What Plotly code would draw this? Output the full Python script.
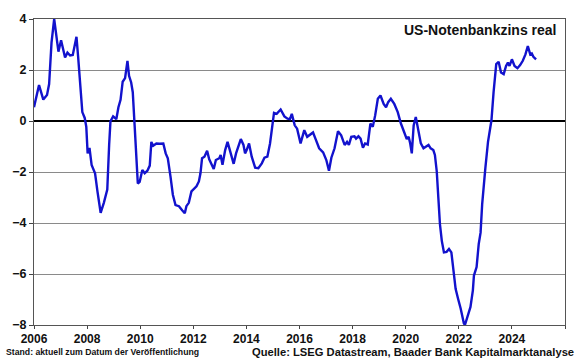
import plotly.graph_objects as go

# Decimal year positions and real Fed funds rate values
years = [
    2006.00, 2006.19, 2006.35, 2006.49, 2006.57, 2006.66, 2006.76, 2006.84, 2006.92, 2007.02,
    2007.10, 2007.17, 2007.26, 2007.36, 2007.46, 2007.60, 2007.66, 2007.73, 2007.82, 2007.91,
    2007.97, 2008.02, 2008.09, 2008.17, 2008.30, 2008.39, 2008.51, 2008.63, 2008.76, 2008.83,
    2008.88, 2008.98, 2009.10, 2009.18, 2009.26, 2009.34, 2009.43, 2009.52, 2009.58, 2009.66,
    2009.72, 2009.79, 2009.85, 2009.91, 2009.98, 2010.08, 2010.17, 2010.27, 2010.36, 2010.42,
    2010.49, 2010.61, 2010.73, 2010.87, 2010.96, 2011.04, 2011.14, 2011.23, 2011.33, 2011.46,
    2011.58, 2011.68, 2011.74, 2011.83, 2011.93, 2012.03, 2012.12, 2012.21, 2012.27, 2012.33,
    2012.42, 2012.52, 2012.60, 2012.77, 2012.85, 2012.98, 2013.03, 2013.10, 2013.20, 2013.29,
    2013.39, 2013.52, 2013.61, 2013.73, 2013.79, 2013.89, 2013.95, 2014.01, 2014.10, 2014.20,
    2014.33, 2014.45, 2014.58, 2014.68, 2014.79, 2014.89, 2015.04, 2015.14, 2015.29, 2015.43,
    2015.55, 2015.64, 2015.71, 2015.82, 2015.91, 2016.04, 2016.18, 2016.29, 2016.39, 2016.51,
    2016.60, 2016.74, 2016.89, 2017.01, 2017.11, 2017.20, 2017.32, 2017.45, 2017.57, 2017.70,
    2017.79, 2017.86, 2017.95, 2018.07, 2018.13, 2018.22, 2018.30, 2018.39, 2018.47, 2018.57,
    2018.67, 2018.76, 2018.85, 2018.95, 2019.05, 2019.17, 2019.26, 2019.34, 2019.44, 2019.57,
    2019.70, 2019.82, 2019.94, 2020.04, 2020.11, 2020.17, 2020.23, 2020.30, 2020.38, 2020.47,
    2020.57, 2020.67, 2020.77, 2020.86, 2020.94, 2021.04, 2021.10, 2021.17, 2021.23, 2021.29,
    2021.36, 2021.44, 2021.54, 2021.63, 2021.72, 2021.80, 2021.88, 2021.97, 2022.07, 2022.19,
    2022.23, 2022.44, 2022.53, 2022.57, 2022.67, 2022.75, 2022.82, 2022.88, 2022.97, 2023.00,
    2023.10, 2023.23, 2023.31, 2023.41, 2023.50, 2023.59, 2023.69, 2023.78, 2023.85, 2023.91,
    2024.00, 2024.10, 2024.21, 2024.31, 2024.41, 2024.51, 2024.60, 2024.69, 2024.75, 2024.81,
    2024.91,
]
rate = [
    0.54, 1.41, 0.84, 1.02, 1.45, 3.07, 4.00, 3.39, 2.72, 3.17,
    2.78, 2.49, 2.68, 2.57, 2.59, 3.30, 2.55, 1.51, 0.35, 0.12,
    -0.23, -1.27, -1.05, -1.72, -2.05, -2.76, -3.60, -3.21, -2.69, -0.94,
    -0.01, 0.18, 0.07, 0.54, 0.83, 1.54, 1.68, 2.36, 1.77, 1.51,
    1.13, -0.17, -1.59, -2.45, -2.39, -1.92, -2.05, -1.95, -1.75, -0.82,
    -0.97, -0.88, -0.89, -0.88, -1.27, -1.46, -2.17, -2.89, -3.30, -3.34,
    -3.50, -3.62, -3.34, -3.21, -2.76, -2.63, -2.56, -2.37, -2.05, -1.46,
    -1.40, -1.17, -1.50, -1.88, -1.53, -1.46, -1.33, -1.72, -1.14, -0.82,
    -1.18, -1.68, -1.27, -0.88, -0.71, -0.94, -1.27, -1.14, -0.88, -1.40,
    -1.83, -1.85, -1.66, -1.44, -1.40, -0.88, 0.32, 0.28, 0.45, 0.18,
    0.09, 0.07, 0.28, -0.17, -0.30, -0.88, -0.36, -0.62, -0.53, -0.45,
    -0.69, -1.07, -1.23, -1.53, -1.95, -1.44, -1.07, -0.40, -0.56, -0.94,
    -0.82, -0.94, -0.62, -0.60, -0.69, -0.60, -0.69, -1.05, -0.88, -0.92,
    -0.10, -0.23, 0.22, 0.87, 1.00, 0.67, 0.54, 0.74, 0.87, 0.67,
    0.35, -0.10, -0.43, -0.71, -0.62, -0.88, -1.27, -0.17, 0.16, -0.36,
    -0.88, -1.07, -1.01, -0.94, -1.07, -1.14, -1.33, -1.98, -3.02, -4.05,
    -4.70, -5.15, -5.13, -5.02, -5.15, -5.86, -6.58, -6.96, -7.35, -7.93,
    -8.00, -7.29, -6.64, -6.06, -5.73, -4.83, -4.38, -3.27, -2.11, -1.85,
    -0.82, 0.03, 1.13, 2.23, 2.32, 1.90, 1.84, 2.16, 2.29, 2.16,
    2.42, 2.16, 2.07, 2.19, 2.36, 2.61, 2.94, 2.61, 2.65, 2.52,
    2.42,
]

x_tickvals = [2006, 2008, 2010, 2012, 2014, 2016, 2018, 2020, 2022, 2024, 2026]
x_ticktext = ["2006", "2008", "2010", "2012", "2014", "2016", "2018", "2020", "2022", "2024", ""]
y_tickvals = [-8, -6, -4, -2, 0, 2, 4]

title_text = "US-Notenbankzins real"
note_left = "Stand: aktuell zum Datum der Veröffentlichung"
note_right = "Quelle: LSEG Datastream, Baader Bank Kapitalmarktanalyse"

FONT = "Liberation Sans, Arial, sans-serif"

W, H = 580, 359
ML, MR, MT, MB = 31, 15, 16, 34
plot_h = H - MT - MB
plot_w = W - ML - MR


def px_x(px):
    return (px - ML) / plot_w


def px_y(py):
    return 1 - (py - MT) / plot_h


fig = go.Figure()
fig.add_trace(go.Scatter(
    x=years, y=rate, mode="lines",
    line=dict(color="rgb(18,18,205)", width=2.4),
    hoverinfo="skip", showlegend=False,
))

fig.update_layout(
    width=W, height=H,
    margin=dict(l=ML, r=MR, t=MT, b=MB, pad=0),
    paper_bgcolor="white", plot_bgcolor="white",
    font=dict(family=FONT, color="#111"),
    showlegend=False,
    xaxis=dict(
        range=[2006, 2026], tickvals=x_tickvals, ticktext=x_ticktext,
        ticks="outside", ticklen=3, tickcolor="#444", tickwidth=1,
        showgrid=False, zeroline=False,
        showline=True, linecolor="#555", linewidth=1, mirror=True,
        tickfont=dict(family=FONT, size=12, color="#111", weight="bold"),
    ),
    yaxis=dict(
        range=[-8, 4], tickvals=y_tickvals,
        ticks="outside", ticklen=4, tickcolor="#444", tickwidth=1,
        showgrid=True, gridcolor="#8a8a8a", gridwidth=1,
        zeroline=True, zerolinecolor="black", zerolinewidth=2,
        showline=True, linecolor="#555", linewidth=1, mirror=True,
        tickfont=dict(family=FONT, size=12.5, color="#111", weight="bold"),
    ),
    annotations=[
        dict(text=title_text, x=px_x(558), y=px_y(27),
             xref="paper", yref="paper",
             xanchor="right", yanchor="middle", showarrow=False,
             font=dict(family=FONT, size=14, color="#111", weight="bold")),
        dict(text=note_left, x=px_x(1), y=px_y(352.5),
             xref="paper", yref="paper",
             showarrow=False, xanchor="left", yanchor="middle",
             font=dict(family=FONT, size=8.7, color="#111", weight="bold")),
        dict(text=note_right, x=px_x(576), y=px_y(352),
             xref="paper", yref="paper",
             showarrow=False, xanchor="right", yanchor="middle",
             font=dict(family=FONT, size=11.2, color="#111", weight="bold")),
    ],
)

fig.write_html(
    "out.html",
    config={"displayModeBar": False},
    post_script="document.body.style.margin='0';document.body.style.overflow='hidden';",
)
